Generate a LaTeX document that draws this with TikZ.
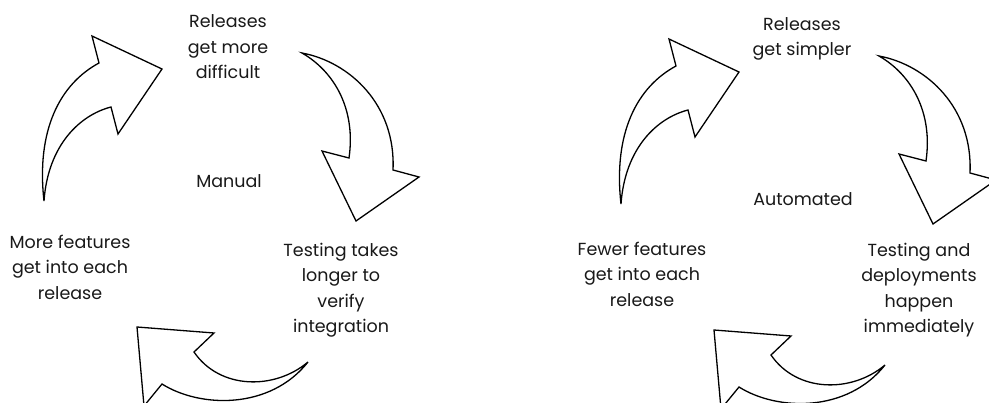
\documentclass[tikz,border=0pt]{standalone}
\usepackage{fontspec}
\setmainfont{Poppins}
\begin{document}
\begin{tikzpicture}[x=1pt,y=-1pt,
  arrowshape/.style={draw=black, line width=1.3pt, line join=miter, fill=white},
  lbl/.style={align=center, font=\fontsize{17.5}{25.5}\selectfont, inner sep=0pt, text=black!90}]
\useasboundingbox (0,0) rectangle (989,403);
\fill[white] (0,0) rectangle (989,403);
\begin{scope}
\clip (0,0) rectangle (989,403);
\foreach \sx/\sy in {0/0, 577/3}{
\begin{scope}[shift={(\sx,\sy)}]
  % arrow 1 (left, pointing up-right)
  \draw[arrowshape] (44,201) .. controls (36,130) and (60,84) .. (99,63) -- (92,36) -- (162,69) -- (118,134) -- (111,107) .. controls (80,115) and (48,145) .. (44,201) -- cycle;
  % arrow 2 (right, pointing down)
  \draw[arrowshape] (302,53) .. controls (350,62) and (396,105) .. (393,170) -- (419,177) -- (356,221) -- (322,151) -- (349,158) .. controls (356,110) and (335,72) .. (302,53) -- cycle;
  % arrow 3 (bottom, pointing up-left)
  \draw[arrowshape] (308,362) .. controls (275,390) and (220,390) .. (194,352) -- (214,333) -- (137,327) -- (144,406) -- (162,384) .. controls (200,408) and (270,410) .. (308,362) -- cycle;
\end{scope}
}
\end{scope}
% left cycle texts
\node[lbl] (lt) at (228,47) {Releases\\get more\\difficult};
\node[lbl] (lc) at (229,181) {Manual};
\node[lbl] (ll) at (70,267) {More features\\get into each\\release};
\node[lbl] (lr) at (341,290) {Testing takes\\longer to\\verify\\integration};
% right cycle texts
\node[lbl] (rt) at (802,39) {Releases\\get simpler};
\node[lbl] (rc) at (803,199) {Automated};
\node[lbl] (rl) at (642,274) {Fewer features\\get into each\\release};
\node[lbl] (rr) at (919,290) {Testing and\\deployments\\happen\\immediately};
\end{tikzpicture}
\end{document}
